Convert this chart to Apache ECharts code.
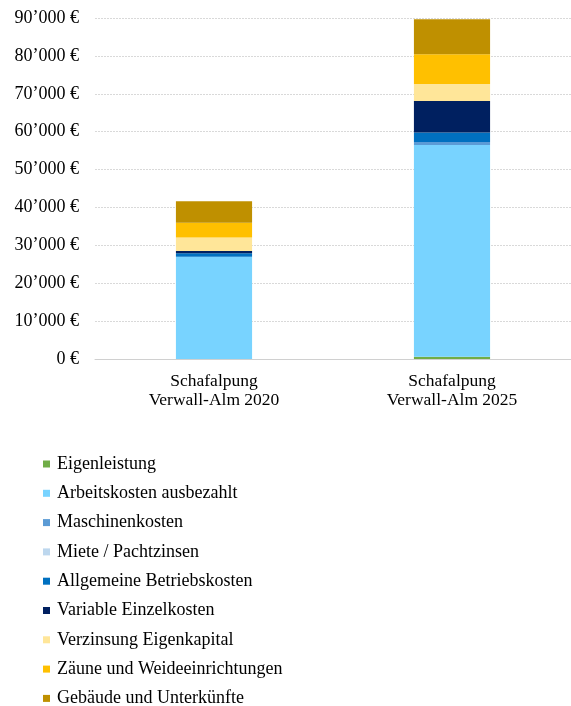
<!DOCTYPE html>
<html>
<head>
<meta charset="utf-8">
<script src="https://cdn.jsdelivr.net/npm/echarts@6/dist/echarts.min.js"></script>
<style>
html,body{margin:0;padding:0;background:#fff;}
#c{width:571px;height:706px;}
</style>
</head>
<body>
<div id="c"></div>
<script>
const categories = ["Schafalpung\nVerwall-Alm 2020", "Schafalpung\nVerwall-Alm 2025"];
const seriesNames = ["Eigenleistung","Arbeitskosten ausbezahlt","Maschinenkosten","Miete / Pachtzinsen","Allgemeine Betriebskosten","Variable Einzelkosten","Verzinsung Eigenkapital","Zäune und Weideeinrichtungen","Gebäude und Unterkünfte"];
const eigenleistung = [0, 600];
const arbeitskosten = [27000, 55900];
const maschinenkosten = [0, 800];
const miete = [0, 0];
const allgemeine = [900, 2450];
const variable = [600, 8370];
const verzinsung = [3600, 4490];
const zaeune = [3850, 7840];
const gebaeude = [5700, 9240];
const yTicks = [0,10000,20000,30000,40000,50000,60000,70000,80000,90000];
const colors = ["#70AD47","#78D3FF","#5B9BD5","#BDD7EE","#0070C0","#002060","#FFE699","#FFC000","#BF9000"];

const values = [eigenleistung, arbeitskosten, maschinenkosten, miete, allgemeine, variable, verzinsung, zaeune, gebaeude];
const font = "'Liberation Serif', 'Times New Roman', serif";

function fmt(v){
  if (v === 0) return "0 €";
  const s = String(Math.round(v));
  return s.replace(/\B(?=(\d{3})+(?!\d))/g, "\u2019") + " €";
}

const chart = echarts.init(document.getElementById('c'));
chart.setOption({
  backgroundColor: '#fff',
  animation: false,
  textStyle: {fontFamily: font},
  grid: {left: 95, top: 18, width: 476, height: 341, containLabel: false},
  legend: {
    orient: 'vertical',
    left: 43,
    top: 455,
    height: 300,
    padding: 0,
    icon: 'rect',
    itemWidth: 7,
    itemHeight: 7,
    itemGap: 11.3,
    data: seriesNames,
    textStyle: {fontFamily: font, fontSize: 18, color: '#000', lineHeight: 18, padding: [0,0,0,2]}
  },
  xAxis: {
    type: 'category',
    data: categories,
    axisLine: {lineStyle: {color: '#d0d0d0'}},
    axisTick: {show: false},
    axisLabel: {fontFamily: font, fontSize: 17.5, color: '#000', lineHeight: 19, margin: 13, interval: 0}
  },
  yAxis: {
    type: 'value',
    min: yTicks[0],
    max: yTicks[yTicks.length-1],
    interval: 10000,
    axisLine: {show: false},
    axisTick: {show: false},
    splitLine: {lineStyle: {color: '#d9d9d9', type: [2,1], width: 1}},
    axisLabel: {fontFamily: font, fontSize: 18, color: '#000', margin: 16, formatter: fmt}
  },
  series: seriesNames.map((n, i) => ({
    name: n,
    type: 'bar',
    stack: 'total',
    barWidth: '32%',
    data: values[i],
    itemStyle: {color: colors[i]}
  }))
});
</script>
</body>
</html>
